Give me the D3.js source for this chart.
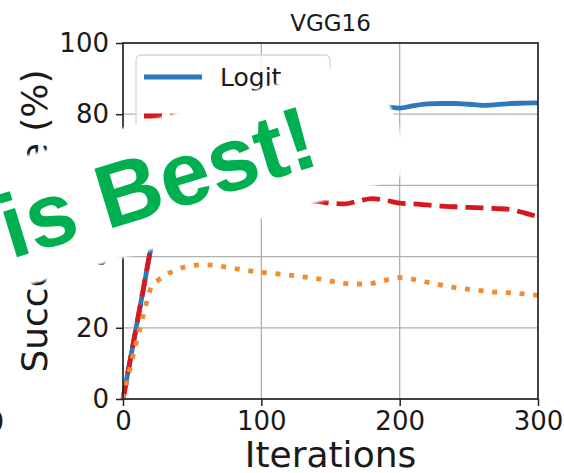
<!DOCTYPE html>
<html>
<head>
<meta charset="utf-8">
<script src="https://cdn.jsdelivr.net/npm/d3@7"></script>
<style>
 body { margin: 0; background: #fff; }
 svg { display: block; font-family: "DejaVu Sans", sans-serif; }
</style>
</head>
<body>
<div id="chart"></div>
<script>
// values
var iterations = [0, 5, 10, 15, 20, 25, 30, 40, 50, 60, 70, 80, 90, 100, 110, 120, 130, 140, 150,
  160, 170, 180, 190, 200, 210, 220, 230, 240, 250, 260, 270, 280, 290, 300];
var logit = [0, 10.5, 21, 31.5, 42, 52, 61, 73, 78, 80, 80.8, 81.2, 81.5, 81.7, 81.8, 82, 82.1, 82.2, 82.3,
  82.3, 82.4, 82.4, 82.1, 81.7, 82.4, 82.9, 83, 83, 82.8, 82.5, 82.7, 83, 83.1, 83.2];
var poTrip = [0, 10.5, 21, 31.5, 42, 48, 51, 53.5, 55, 56, 56.5, 56.5, 56.5, 56.2, 55.9, 55.7, 55.6, 55.5, 55,
  54.8, 55.6, 56.3, 55.8, 55, 54.8, 54.5, 54.2, 54, 53.8, 53.7, 53.5, 53.2, 52.3, 51.2];
var ce = [0, 8.5, 16.5, 24, 31, 33.2, 34.6, 36.5, 37.5, 37.7, 37.3, 36.7, 36.1, 35.6, 35.2, 34.8, 34.3, 33.8, 33.1,
  32.5, 32.3, 32.5, 33.4, 34.1, 33.6, 32.8, 32, 31.3, 30.8, 30.4, 30, 29.8, 29.5, 29.1];
var seriesNames = ["Logit", "Po+Trip", "CE"];
var xTicks = [0, 100, 200, 300];
var yTicks = [0, 20, 40, 60, 80, 100];

var svgWidth = 564;
var svgHeight = 473;
var margin = { top: 43, right: 26, bottom: 74, left: 123 };
var width = svgWidth - margin.left - margin.right;
var height = svgHeight - margin.top - margin.bottom;

var svg = d3.select("#chart")
 .append("svg")
   .attr("width", svgWidth)
   .attr("height", svgHeight);

var g = svg.append("g")
   .attr("transform", "translate(" + margin.left + "," + margin.top + ")");

var x = d3.scaleLinear().domain([0, 300]).range([0, width]);
var y = d3.scaleLinear().domain([0, 100]).range([height, 0]);

// grid
g.append("g").selectAll("line").data(xTicks).enter().append("line")
   .attr("x1", function (d) { return x(d); }).attr("x2", function (d) { return x(d); })
   .attr("y1", 0).attr("y2", height)
   .attr("stroke", "#b0b0b0").attr("stroke-width", 1.3);
g.append("g").selectAll("line").data(yTicks).enter().append("line")
   .attr("y1", function (d) { return y(d); }).attr("y2", function (d) { return y(d); })
   .attr("x1", 0).attr("x2", width)
   .attr("stroke", "#b0b0b0").attr("stroke-width", 1.3);

// series
var series = [
 { name: seriesNames[0], values: logit, color: "#2e78bc", dash: null },
 { name: seriesNames[1], values: poTrip, color: "#d7191f", dash: "18,8" },
 { name: seriesNames[2], values: ce, color: "#f08c32", dash: "5,8.7" }
];
var line = d3.line()
   .x(function (d, i) { return x(iterations[i]); })
   .y(function (d) { return y(d); })
   .curve(d3.curveMonotoneX);

series.forEach(function (s) {
 g.append("path")
   .attr("d", line(s.values))
   .attr("fill", "none")
   .attr("stroke", s.color)
   .attr("stroke-width", 4.8)
   .attr("stroke-dasharray", s.dash);
});

// axes
var xAxis = g.append("g")
   .attr("transform", "translate(0," + height + ")")
   .call(d3.axisBottom(x).tickValues(xTicks).tickSize(7).tickPadding(6).tickFormat(d3.format("d")));
var yAxis = g.append("g")
   .call(d3.axisLeft(y).tickValues(yTicks).tickSize(7).tickPadding(7).tickFormat(d3.format("d")));
[xAxis, yAxis].forEach(function (a) {
 a.select(".domain").remove();
 a.selectAll("line").attr("stroke", "#222").attr("stroke-width", 1.5);
 a.selectAll("text").attr("font-size", 26).attr("fill", "#1a1a1a")
   .attr("font-family", "DejaVu Sans");
});
g.append("rect")
   .attr("width", width).attr("height", height)
   .attr("fill", "none").attr("stroke", "#222").attr("stroke-width", 1.6);

// titles
svg.append("text").attr("x", margin.left + width / 2).attr("y", 31)
   .attr("text-anchor", "middle").attr("font-size", 23).attr("fill", "#1a1a1a").text("VGG16");
svg.append("text").attr("x", margin.left + width / 2).attr("y", 467)
   .attr("text-anchor", "middle").attr("font-size", 36).attr("fill", "#1a1a1a").text("Iterations");
svg.append("text")
   .attr("transform", "translate(47," + (margin.top + height / 2) + ") rotate(-90)")
   .attr("text-anchor", "middle").attr("font-size", 36).attr("fill", "#1a1a1a").text("Success rate (%)");
// edge of the next panel
svg.append("text").attr("x", 4).attr("y", 431)
   .attr("text-anchor", "end").attr("font-size", 26).attr("fill", "#1a1a1a").text("300");

// legend
var legend = svg.append("g").attr("transform", "translate(136,55)");
legend.append("rect")
   .attr("width", 194).attr("height", 120).attr("rx", 5)
   .attr("fill", "#fff").attr("fill-opacity", 0.8)
   .attr("stroke", "#d6d6d6").attr("stroke-width", 1.3);
series.forEach(function (s, i) {
 legend.append("line")
   .attr("x1", 8).attr("x2", 66)
   .attr("y1", 22 + i * 39).attr("y2", 22 + i * 39)
   .attr("stroke", s.color).attr("stroke-width", 4.8)
   .attr("stroke-dasharray", s.dash);
 legend.append("text")
   .attr("x", 84).attr("y", 31 + i * 39)
   .attr("font-size", 25).attr("fill", "#1a1a1a").text(s.name);
});

// white banner pasted over the chart
var defs = svg.append("defs");
defs.append("filter").attr("id", "soft")
 .append("feGaussianBlur").attr("stdDeviation", 1.2);
var banner = [[0, 163], [330, 69], [386, 54], [389, 103], [399, 127], [405, 152], [400, 177],
  [373, 186], [323, 201], [0, 293]];
svg.append("path")
   .attr("d", d3.line()(banner) + "Z")
   .attr("fill", "#fff")
   .attr("filter", "url(#soft)");

svg.append("text")
   .attr("transform", "translate(11,259) rotate(-17)")
   .attr("font-family", "Liberation Sans, Arial, sans-serif")
   .attr("font-weight", "bold")
   .attr("font-size", 90)
   .attr("fill", "#00b050")
   .text("is Best!");
</script>
</body>
</html>
